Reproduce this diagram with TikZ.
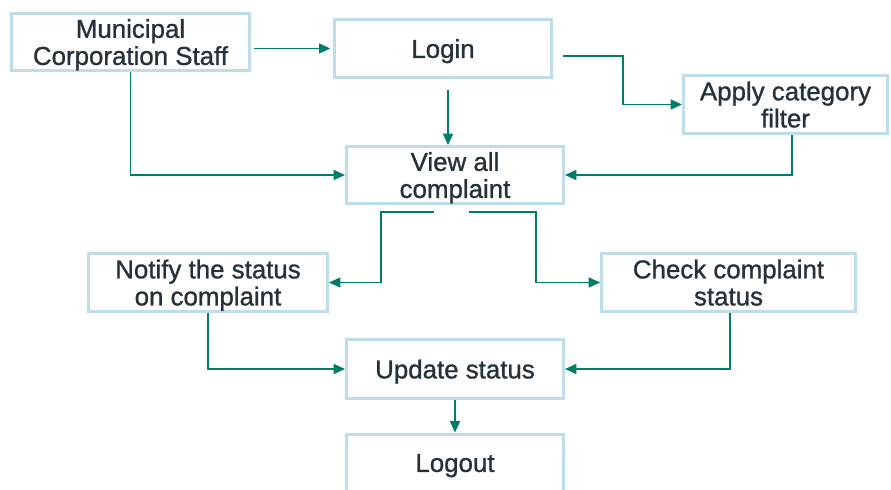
\documentclass[tikz,border=0pt]{standalone}
\usepackage{fontspec}
\setmainfont{Liberation Sans}[FakeBold=1]
\usetikzlibrary{arrows.meta}

\definecolor{boxline}{RGB}{190,221,233}
\definecolor{flow}{RGB}{0,125,104}
\definecolor{boxtext}{RGB}{38,50,58}

\tikzset{every picture/.style={line width=0.75pt}}
\tikzset{
  stepbox/.style={draw=boxline, line width=2.25pt, fill=white, text=boxtext, align=center,
    inner sep=0pt, minimum height=43.5pt, text depth=0pt, font=\fontsize{19.4}{20.3}\selectfont},
  flowarrow/.style={draw=flow, line width=1.1pt, -{Triangle[length=8.5pt,width=7.5pt]}}
}

\begin{document}
\begin{tikzpicture}[x=0.75pt,y=0.75pt,yscale=-1,xscale=1]
	\useasboundingbox (0,0) rectangle (891,489); %set diagram to the size of the reference
	\clip (0,0) rectangle (891,489);

	%Shape: Rectangle [id:staff] 
	\node[stepbox, minimum width=178.5pt, minimum height=42.75pt] (staff) at (130.5,42) {Municipal\\Corporation Staff};
	%Shape: Rectangle [id:login] 
	\node[stepbox, minimum width=162.75pt] (login) at (443,48.5) {Login};
	%Shape: Rectangle [id:apply] 
	\node[stepbox, minimum width=153pt] (apply) at (785.5,104.5) {Apply category\\filter};
	%Shape: Rectangle [id:view] 
	\node[stepbox, minimum width=162.75pt, minimum height=42.75pt] (view) at (455,175) {View all\\complaint};
	%Shape: Rectangle [id:notify] 
	\node[stepbox, minimum width=179.25pt] (notify) at (208,282.5) {Notify the status\\on complaint};
	%Shape: Rectangle [id:check] 
	\node[stepbox, minimum width=190.5pt] (check) at (728.5,282.5) {Check complaint\\status};
	%Shape: Rectangle [id:update] 
	\node[stepbox, minimum width=162.75pt, minimum height=44.25pt] (update) at (455,369) {Update status};
	%Shape: Rectangle [id:logout] 
	\node[stepbox, minimum width=162.75pt] (logout) at (455,463) {Logout};

	%Straight Lines [id:staff-login] 
	\draw[flowarrow, shorten <=2pt, shorten >=2pt] (staff.east |- login.west) -- (login.west);
	%Straight Lines [id:staff-view] 
	\draw[flowarrow] (staff.south) |- (view.west);
	%Straight Lines [id:login-view] 
	\draw[flowarrow, shorten <=8pt] ([xshift=3.75pt]login.south) -- ([xshift=3.75pt]login.south |- view.north);
	%Straight Lines [id:login-apply] 
	\draw[flowarrow] ([xshift=7.5pt,yshift=5.5pt]login.east) -- ++(60,0) |- (apply.west);
	%Straight Lines [id:apply-view] 
	\draw[flowarrow] ([xshift=5pt]apply.south) |- (view.east);
	%Straight Lines [id:view-notify] 
	\draw[flowarrow] ([xshift=-15.75pt,yshift=5.25pt]view.south) -- ++(-53,0) |- (notify.east);
	%Straight Lines [id:view-check] 
	\draw[flowarrow] ([xshift=10.5pt,yshift=5.25pt]view.south) -- ++(67,0) |- (check.west);
	%Straight Lines [id:notify-update] 
	\draw[flowarrow] (notify.south) |- (update.west);
	%Straight Lines [id:check-update] 
	\draw[flowarrow] ([xshift=1pt]check.south) |- (update.east);
	%Straight Lines [id:update-logout] 
	\draw[flowarrow] (update.south) -- (logout.north);

\end{tikzpicture}
\end{document}
